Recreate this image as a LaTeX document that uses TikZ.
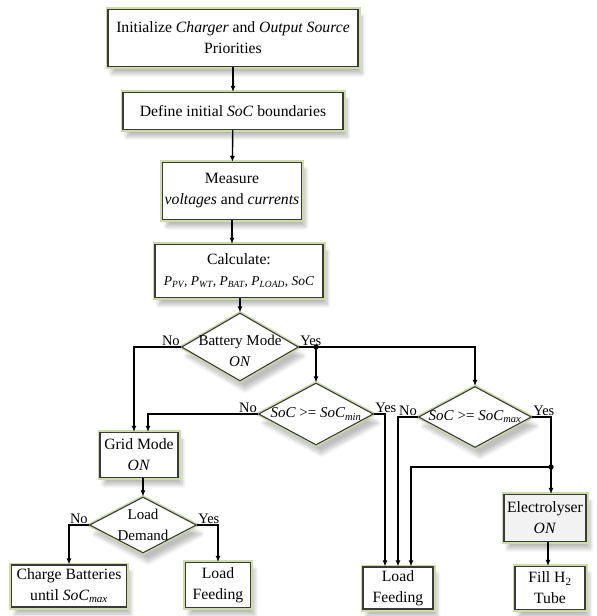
\documentclass[tikz,border=0pt]{standalone}
\usepackage{fontspec}
\setmainfont{Liberation Serif}
\usetikzlibrary{arrows.meta,shapes.geometric,shadows.blur}

\definecolor{glow}{RGB}{206,220,168}
\definecolor{rim}{RGB}{58,58,58}

\tikzset{
  box/.style={rectangle, draw=rim, line width=1.1pt, fill=white, align=center,
    inner sep=2pt, font=\fontsize{15.7}{21}\selectfont,
    blur shadow={shadow xshift=4pt, shadow yshift=-7pt, shadow opacity=28,
      shadow blur steps=8, shadow blur radius=4pt},
    preaction={draw=glow, line width=5pt}},
  decision/.style={diamond, draw=rim, line width=1.1pt, fill=white, inner sep=0pt,
    blur shadow={shadow xshift=5pt, shadow yshift=-9pt, shadow opacity=25,
      shadow blur steps=8, shadow blur radius=4pt},
    preaction={draw=glow, line width=4pt}},
  lbl/.style={align=center, inner sep=0pt, font=\fontsize{15}{21}\selectfont},
  yn/.style={inner sep=1pt, font=\fontsize{14.5}{16}\selectfont},
  flow/.style={-{Latex[length=6pt,width=5pt]}, line width=1.4pt},
  wire/.style={line width=1.4pt}
}

\begin{document}
\begin{tikzpicture}[x=1pt,y=-1pt]
  \useasboundingbox (0,0) rectangle (597,616);

  % process boxes
  \node[box, minimum width=250pt, minimum height=57pt] (init) at (233,38)
    {Initialize \textit{Charger} and \textit{Output Source}\\Priorities};
  \node[box, minimum width=220pt, minimum height=37pt] (soc) at (233,111)
    {Define initial \textit{SoC} boundaries};
  \node[box, minimum width=135pt, minimum height=57pt] (meas) at (232,191)
    {Measure\\\textit{voltages} and \textit{currents}};
  \node[box, minimum width=168pt, minimum height=53pt] (calc) at (239,271)
    {Calculate:\\{\fontsize{13.5}{15}\selectfont\itshape P\textsubscript{PV}, P\textsubscript{WT}, P\textsubscript{BAT}, P\textsubscript{LOAD}, SoC}};

  % decisions
  \node[decision, minimum width=117pt, minimum height=68pt] (bat) at (240,347)
    [label={[lbl,yshift=-4pt]center:Battery Mode\\\textit{ON}}] {};
  \node[decision, minimum width=115pt, minimum height=62pt] (min) at (316,414)
    [label={[lbl]center:\textit{SoC} >= \textit{SoC\textsubscript{min}}}] {};
  \node[decision, minimum width=113pt, minimum height=61pt] (max) at (475,417)
    [label={[lbl]center:\textit{SoC} >= \textit{SoC\textsubscript{max}}}] {};
  \node[decision, minimum width=107pt, minimum height=56pt] (ld) at (143,525)
    [label={[lbl]center:Load\\Demand}] {};

  % lower boxes
  \node[box, minimum width=78pt, minimum height=45pt] (grid) at (139,455)
    {Grid Mode\\\textit{ON}};
  \node[box, minimum width=115pt, minimum height=42pt] (charge) at (69,586)
    {Charge Batteries\\until \textit{SoC\textsubscript{max}}};
  \node[box, minimum width=65pt, minimum height=45pt] (feedL) at (218,585)
    {Load\\Feeding};
  \node[box, minimum width=70pt, minimum height=42pt] (feedR) at (398,588)
    {Load\\Feeding};
  \node[box, fill=black!5, minimum width=82pt, minimum height=47pt] (elec) at (545,518)
    {Electrolyser\\\textit{ON}};
  \node[box, minimum width=70pt, minimum height=43pt] (fill) at (550,588)
    {Fill H\textsubscript{2}\\Tube};

  % junctions
  \coordinate (j1) at (bat.east -| min.north);
  \coordinate (j2) at (551,467);

  % main chain
  \draw[flow] (init) -- (soc);
  \draw[flow] (soc) -- (meas);
  \draw[flow] (meas.south) -- (meas.south |- calc.north);
  \draw[flow] (calc.south -| bat.north) -- (bat.north);

  % battery mode
  \draw[flow] (bat.west) -| ([xshift=-5pt]grid.north);
  \draw[wire] (bat.east) -- (j1);
  \draw[flow] (j1) -| (max.north);
  \draw[flow] (j1) -- (min.north);
  \fill (j1) circle (2.7pt);

  % SoC min
  \draw[flow] (min.west) -| ([xshift=9pt]grid.north);
  \draw[flow] (min.east) -| ([xshift=-13pt]feedR.north);

  % SoC max
  \draw[flow] (max.west) -| (feedR.north);
  \draw[flow] (max.east) -| ([xshift=6pt]elec.north);
  \draw[flow] (j2) -| ([xshift=13pt]feedR.north);
  \fill (j2) circle (2.7pt);
  \draw[flow] ([xshift=3pt]elec.south) -- ([xshift=3pt]elec.south |- fill.north);

  % grid mode
  \draw[flow] (grid.south -| ld.north) -- (ld.north);
  \draw[flow] (ld.west) -| (charge.north);
  \draw[flow] (ld.east) -| (feedL.north);

  % yes / no
  \node[yn, anchor=south east] (noBat) at (bat.west) {No};
  \node[yn, anchor=south west] (yesBat) at (bat.east) {Yes};
  \node[yn, anchor=south east] (noMin) at (min.west) {No};
  \node[yn, anchor=south west] (yesMin) at (min.east) {Yes};
  \node[yn, anchor=south east] (noMax) at (max.west) {No};
  \node[yn, anchor=south west] (yesMax) at (max.east) {Yes};
  \node[yn, anchor=south east] (noLd) at (ld.west) {No};
  \node[yn, anchor=south west] (yesLd) at (ld.east) {Yes};
\end{tikzpicture}
\end{document}
